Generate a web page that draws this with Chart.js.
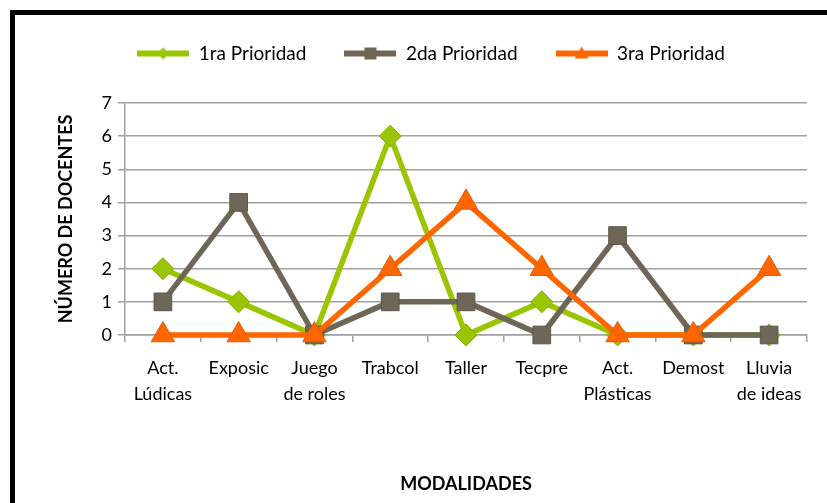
<!DOCTYPE html>
<html>
<head>
<meta charset="utf-8">
<script src="https://cdn.jsdelivr.net/npm/chart.js@4.4.0/dist/chart.umd.min.js"></script>
<style>
  html, body { margin: 0; padding: 0; background: #fff; overflow: hidden; }
  #marco { position: absolute; left: 10px; top: 10px; width: 900px; height: 600px; border: 5px solid #000; }
  #wrap { position: absolute; left: 0; top: 0; width: 827px; height: 503px; }
</style>
</head>
<body>
<div id="marco"></div>
<div id="wrap"><canvas id="grafico" width="827" height="503"></canvas></div>
<script>
// datos del gráfico
const modalidades = [['Act.', 'Lúdicas'], 'Exposic', ['Juego', 'de roles'], 'Trabcol', 'Taller', 'Tecpre', ['Act.', 'Plásticas'], 'Demost', ['Lluvia', 'de ideas']];
const prioridad1 = [2, 1, 0, 6, 0, 1, 0, 0, 0];
const prioridad2 = [1, 4, 0, 1, 1, 0, 3, 0, 0];
const prioridad3 = [0, 0, 0, 2, 4, 2, 0, 0, 2];
const nombresSeries = ['1ra Prioridad', '2da Prioridad', '3ra Prioridad'];

const verde = '#99C600';
const gris = '#6E6657';
const naranja = '#FF6600';

// icono de leyenda: linea + marcador
function iconoLeyenda(color, tipo) {
    const c = document.createElement('canvas');
    c.width = 52; c.height = 20;
    const g = c.getContext('2d');
    g.fillStyle = color;
    g.fillRect(0, 7, 52, 6);
    g.beginPath();
    if (tipo === 'rombo') {
        g.moveTo(26, 4); g.lineTo(32, 10); g.lineTo(26, 16); g.lineTo(20, 10);
    } else if (tipo === 'cuadro') {
        g.rect(20, 4, 12, 12);
    } else {
        g.moveTo(26, 3); g.lineTo(33, 15); g.lineTo(19, 15);
    }
    g.closePath();
    g.fill();
    return c;
}
const iconos = [iconoLeyenda(verde, 'rombo'), iconoLeyenda(gris, 'cuadro'), iconoLeyenda(naranja, 'triangulo')];

// mas espacio debajo de la leyenda
const espacioLeyenda = {
    id: 'espacioLeyenda',
    beforeInit(chart) {
        const fitOrig = chart.legend.fit;
        chart.legend.fit = function () {
            fitOrig.bind(chart.legend)();
            this.height += 30;
        };
    }
};

const ctx = document.getElementById('grafico').getContext('2d');
new Chart(ctx, {
    type: 'line',
    data: {
        labels: modalidades,
        datasets: [{
            label: nombresSeries[0],
            data: prioridad1,
            borderColor: verde,
            backgroundColor: verde,
            pointStyle: 'rectRot',
            pointRadius: 11,
            pointBorderColor: '#86AD00',
            pointBorderWidth: 1,
            borderWidth: 5.5,
            clip: false,
            order: 3
        }, {
            label: nombresSeries[1],
            data: prioridad2,
            borderColor: gris,
            backgroundColor: gris,
            pointStyle: 'rect',
            pointRadius: 12.5,
            pointBorderColor: '#5E574A',
            pointBorderWidth: 1,
            borderWidth: 5.5,
            clip: false,
            order: 2
        }, {
            label: nombresSeries[2],
            data: prioridad3,
            borderColor: naranja,
            backgroundColor: naranja,
            pointStyle: 'triangle',
            pointRadius: 13.5,
            pointBorderColor: '#E85C00',
            pointBorderWidth: 1,
            borderWidth: 5.5,
            clip: false,
            order: 1
        }]
    },
    options: {
        responsive: false,
        animation: false,
        layout: { padding: { left: 55, right: 20, top: 6, bottom: 8 } },
        plugins: {
            tooltip: { enabled: false },
            legend: {
                position: 'top',
                labels: {
                    usePointStyle: true,
                    pointStyleWidth: 52,
                    padding: 38,
                    color: '#000',
                    font: { family: 'Lato', size: 19 },
                    sort: (a, b) => a.datasetIndex - b.datasetIndex,
                    generateLabels: (chart) => chart.data.datasets.map((d, i) => ({
                        text: d.label,
                        pointStyle: iconos[i],
                        datasetIndex: i,
                        fillStyle: d.borderColor,
                        strokeStyle: d.borderColor,
                        lineWidth: 0,
                        fontColor: '#000'
                    }))
                }
            }
        },
        scales: {
            y: {
                min: 0,
                max: 7,
                ticks: { stepSize: 1, color: '#000', font: { family: 'Lato', size: 18 }, padding: 6 },
                grid: { color: '#A0A0A0', lineWidth: 1.5, tickLength: 7 },
                border: { color: '#A0A0A0', width: 1.5 },
                title: {
                    display: true,
                    text: 'NÚMERO DE DOCENTES',
                    color: '#000',
                    font: { family: 'Lato', size: 18, weight: 'bold' },
                    padding: { top: 0, bottom: 8 }
                },
                afterFit: (s) => { s.width = 70; }
            },
            x: {
                offset: true,
                ticks: { color: '#000', font: { family: 'Lato', size: 18, lineHeight: 1.4 }, padding: 14, maxRotation: 0, autoSkip: false },
                grid: { offset: true, drawOnChartArea: false, color: '#A0A0A0', lineWidth: 1.5, tickLength: 7 },
                border: { color: '#A0A0A0', width: 1.5 },
                title: {
                    display: true,
                    text: 'MODALIDADES',
                    color: '#000',
                    font: { family: 'Lato', size: 18, weight: 'bold' },
                    padding: { top: 53, bottom: 0 }
                }
            }
        }
    },
    plugins: [espacioLeyenda]
});
</script>
</body>
</html>
